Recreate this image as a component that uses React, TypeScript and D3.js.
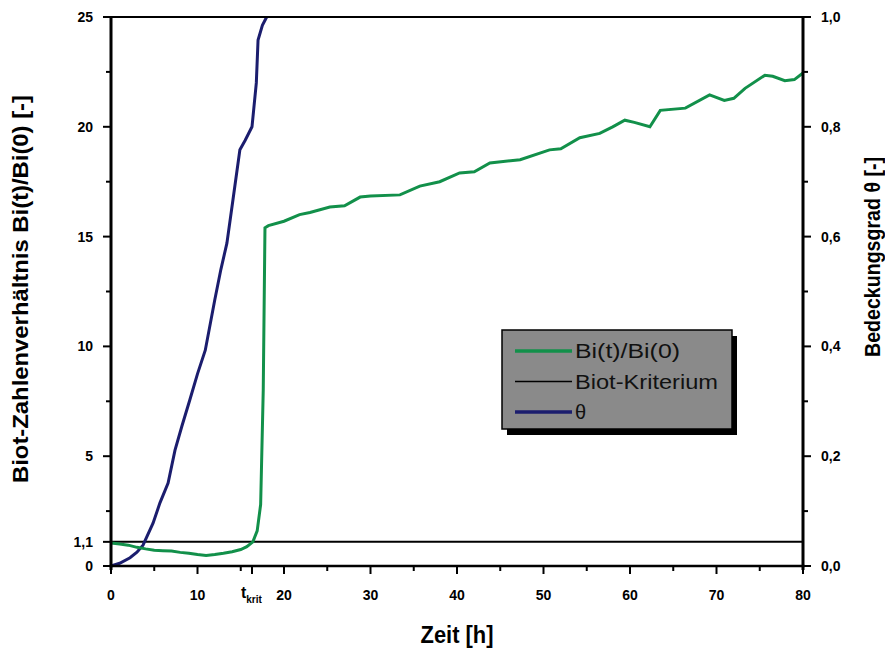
import React from "react";
import * as d3 from "d3";

const biTime = [0, 1, 2, 3, 4, 5, 6, 7, 8, 9, 10, 11, 12, 13, 14, 15, 15.7, 16.4, 16.9, 17.3, 17.6, 17.8, 18.2, 20, 21.8, 23, 25.3, 27, 28.8, 30, 33.4, 35.7, 38, 40.3, 42, 43.8, 47.3, 50.7, 52, 54.2, 56.5, 58, 59.4, 60.5, 62.3, 63.5, 66.4, 69.2, 70.9, 72, 73.3, 75.6, 76.5, 77.9, 79, 80];
const biRatio = [1.05, 1.0, 0.95, 0.85, 0.78, 0.72, 0.7, 0.68, 0.62, 0.58, 0.52, 0.48, 0.52, 0.58, 0.65, 0.75, 0.88, 1.1, 1.6, 2.8, 8, 15.4, 15.5, 15.7, 16.0, 16.1, 16.35, 16.4, 16.8, 16.85, 16.9, 17.3, 17.5, 17.9, 17.95, 18.35, 18.5, 18.95, 19.0, 19.5, 19.7, 20.0, 20.3, 20.2, 20.0, 20.75, 20.85, 21.45, 21.2, 21.3, 21.75, 22.35, 22.3, 22.1, 22.15, 22.45];

const thetaTime = [0, 1, 2.2, 3, 3.7, 4.86, 5.66, 6.6, 7.4, 8.2, 9.1, 10, 10.9, 12.0, 12.7, 13.4, 14.1, 14.9, 15.5, 16.3, 16.8, 17.0, 17.5, 18.0];
const thetaValue = [0, 0.005, 0.015, 0.025, 0.038, 0.078, 0.115, 0.151, 0.211, 0.255, 0.302, 0.35, 0.393, 0.485, 0.54, 0.588, 0.667, 0.758, 0.775, 0.8, 0.88, 0.958, 0.985, 1.0];

const biotCriterion = 1.1;
const tKrit = 16.3;

const leftTicks = [0, 1.1, 5, 10, 15, 20, 25];
const leftMinor = [2.5, 7.5, 12.5, 17.5, 22.5];
const rightTicks = [0, 0.2, 0.4, 0.6, 0.8, 1.0];
const rightMinor = [0.1, 0.3, 0.5, 0.7, 0.9];
const bottomTicks = [0, 10, 20, 30, 40, 50, 60, 70, 80];
const bottomMinor = [5, 15, 25, 35, 45, 55, 65, 75];

const legendLabels = ["Bi(t)/Bi(0)", "Biot-Kriterium", "θ"];

const GREEN = "#12904a";
const BLUE = "#1b1d6e";
const FONT = "'Liberation Sans', Arial, sans-serif";

const fmt = (v: number, d: number) => v.toFixed(d).replace(".", ",");

export default function App() {
  const x = d3.scaleLinear().domain([0, 80]).range([111, 803]);
  const yL = d3.scaleLinear().domain([0, 25]).range([566, 17]);
  const yR = d3.scaleLinear().domain([0, 1]).range([566, 17]);

  const biData = biTime.map((t, i) => [t, biRatio[i]] as [number, number]);
  const thData = thetaTime.map((t, i) => [t, thetaValue[i]] as [number, number]);

  const biLine = d3.line<[number, number]>().x((d) => x(d[0])).y((d) => yL(d[1]));
  const thLine = d3.line<[number, number]>().x((d) => x(d[0])).y((d) => yR(d[1]));

  const x0 = x(0), x1 = x(80), yb = yL(0), yt = yL(25);
  const legendColors = [GREEN, "#000", BLUE];
  const legendWidths = [3.5, 1.5, 3.5];

  return (
    <svg width={885} height={650} style={{ position: "absolute", left: 0, top: 0, background: "#fff" }} fontFamily={FONT}>
      {/* data */}
      <line x1={x0} x2={x1} y1={yL(biotCriterion)} y2={yL(biotCriterion)} stroke="#000" strokeWidth={2} />
      <path d={thLine(thData) || ""} fill="none" stroke={BLUE} strokeWidth={3} />
      <path d={biLine(biData) || ""} fill="none" stroke={GREEN} strokeWidth={3} />

      {/* frame / axes */}
      <line x1={x0} x2={x1} y1={yt} y2={yt} stroke="#000" strokeWidth={2} />
      <line x1={x0} x2={x0} y1={yt} y2={yb + 4} stroke="#000" strokeWidth={3} />
      <line x1={x1} x2={x1} y1={yt} y2={yb + 4} stroke="#000" strokeWidth={3} />
      <line x1={x0 - 1.5} x2={x1 + 1.5} y1={yb} y2={yb} stroke="#000" strokeWidth={2.5} />

      {/* left axis */}
      {leftTicks.map((v) => (
        <g key={"l" + v}>
          <line x1={x0 - 8} x2={x0} y1={yL(v)} y2={yL(v)} stroke="#000" strokeWidth={2} />
          <text x={93} y={yL(v)} dy="0.36em" textAnchor="end" fontSize={14} fontWeight="bold">
            {v === 1.1 ? "1,1" : String(v)}
          </text>
        </g>
      ))}
      {leftMinor.map((v) => (
        <line key={"lm" + v} x1={x0 - 5} x2={x0} y1={yL(v)} y2={yL(v)} stroke="#000" strokeWidth={2} />
      ))}

      {/* right axis */}
      {rightTicks.map((v) => (
        <g key={"r" + v}>
          <line x1={x1} x2={x1 + 8} y1={yR(v)} y2={yR(v)} stroke="#000" strokeWidth={2} />
          <text x={821} y={yR(v)} dy="0.36em" textAnchor="start" fontSize={14} fontWeight="bold">
            {fmt(v, 1)}
          </text>
        </g>
      ))}
      {rightMinor.map((v) => (
        <line key={"rm" + v} x1={x1} x2={x1 + 5} y1={yR(v)} y2={yR(v)} stroke="#000" strokeWidth={2} />
      ))}

      {/* bottom axis */}
      {bottomTicks.map((v) => (
        <g key={"b" + v}>
          <line x1={x(v)} x2={x(v)} y1={yb} y2={yb + 8} stroke="#000" strokeWidth={2} />
          <text x={x(v)} y={600} textAnchor="middle" fontSize={14} fontWeight="bold">
            {String(v)}
          </text>
        </g>
      ))}
      {bottomMinor.map((v) => (
        <line key={"bm" + v} x1={x(v)} x2={x(v)} y1={yb} y2={yb + 5} stroke="#000" strokeWidth={2} />
      ))}
      <line x1={x(tKrit)} x2={x(tKrit)} y1={yb} y2={yb + 8} stroke="#000" strokeWidth={2} />
      <text x={x(tKrit) - 11} y={598} fontSize={16} fontWeight="bold">
        t<tspan fontSize={10} dy={5}>krit</tspan>
      </text>

      {/* axis titles */}
      <text
        transform="translate(28,289) rotate(-90)"
        textAnchor="middle"
        fontSize={22}
        fontWeight="bold"
        textLength={388}
        lengthAdjust="spacingAndGlyphs"
      >
        Biot-Zahlenverhältnis Bi(t)/Bi(0) [-]
      </text>
      <text
        transform="translate(880,257) rotate(-90)"
        textAnchor="middle"
        fontSize={22}
        fontWeight="bold"
        textLength={200}
        lengthAdjust="spacingAndGlyphs"
      >
        Bedeckungsgrad θ [-]
      </text>
      <text x={457} y={643} textAnchor="middle" fontSize={23} fontWeight="bold" textLength={73} lengthAdjust="spacingAndGlyphs">
        Zeit [h]
      </text>

      {/* legend */}
      <rect x={507} y={336} width={230} height={99} fill="#000" />
      <rect x={502} y={330} width={230} height={99} fill="#8a8a8a" stroke="#000" strokeWidth={1.5} />
      {legendLabels.map((lab, i) => {
        const yy = 351 + i * 30.5;
        return (
          <g key={lab}>
            <line x1={515} x2={572} y1={yy} y2={yy} stroke={legendColors[i]} strokeWidth={legendWidths[i]} />
            <text
              x={575}
              y={yy}
              dy="0.36em"
              fontSize={20}
              fill="#111"
              textLength={lab === "θ" ? undefined : lab === "Biot-Kriterium" ? 143 : 105}
              lengthAdjust="spacingAndGlyphs"
            >
              {lab}
            </text>
          </g>
        );
      })}
    </svg>
  );
}
